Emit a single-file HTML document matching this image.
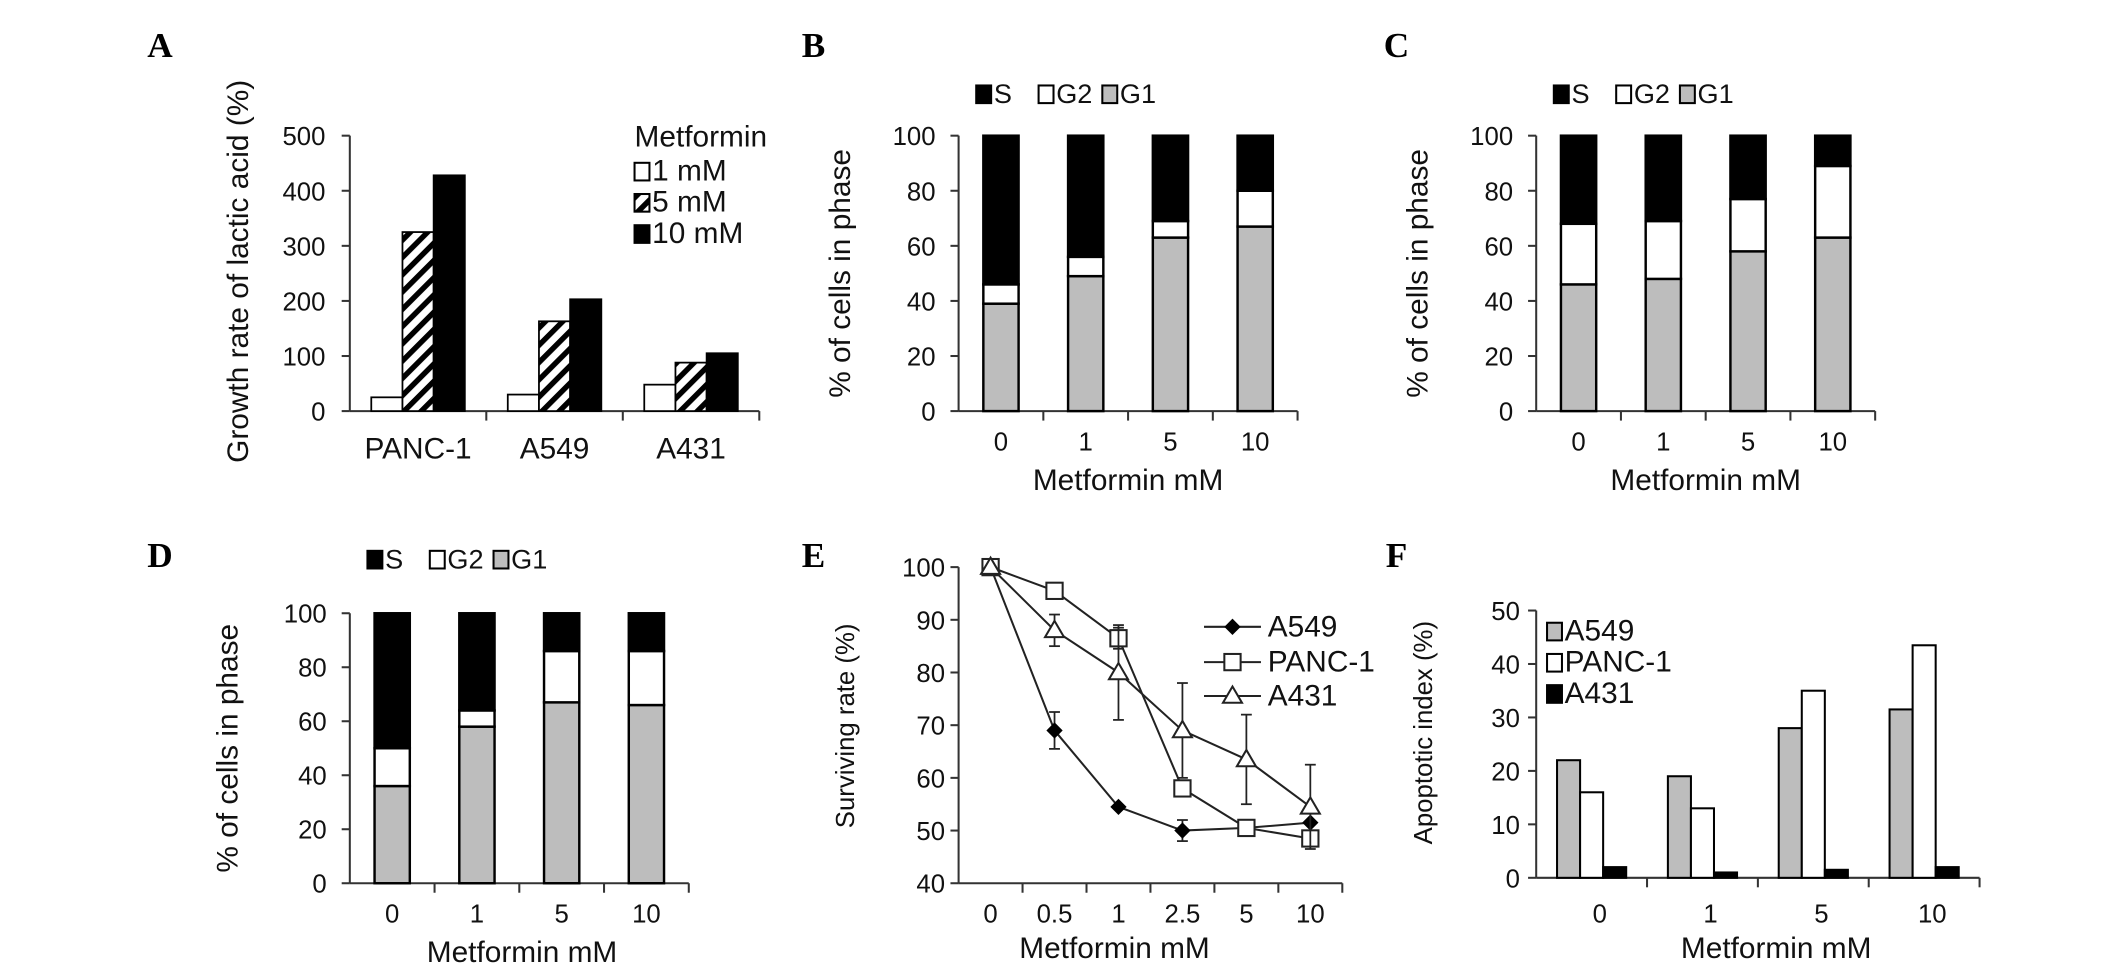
<!DOCTYPE html>
<html><head><meta charset="utf-8"><style>
html,body{margin:0;padding:0;background:#fff;}
svg{display:block;font-family:"Liberation Sans",Arial,sans-serif;}
.t{font-size:19px;fill:#111;}
.ti{font-size:22px;fill:#111;}
.lg{font-size:20px;fill:#111;}
.pl{font-family:"Liberation Serif",serif;font-weight:bold;font-size:26px;fill:#000;}
</style></head><body>
<svg id="fig" width="2126" height="966" viewBox="0 0 1568 712" preserveAspectRatio="none"></svg>
<script>
// Panel A data
const aCats = ['PANC-1','A549','A431'];
const a1mM = [25,30,48];
const a5mM = [325,163,88];
const a10mM = [428,203,105];
const aTicks = [0,100,200,300,400,500];
// Panels B,C,D data (cumulative tops)
const doseCats = ['0','1','5','10'];
const bG1 = [39,49,63,67];
const bG2top = [46,56,69,80];
const cG1 = [46,48,58,63];
const cG2top = [68,69,77,89];
const dG1 = [36,58,67,66];
const dG2top = [50,64,86,86];
const pctTicks = [0,20,40,60,80,100];
// Panel E data
const eCats = ['0','0.5','1','2.5','5','10'];
const eA549 = [100,69,54.5,50,50.5,51.5];
const eA549Err = [0,3.5,0,2,0,0];
const ePANC = [100,95.5,86.5,58,50.5,48.5];
const ePANCErr = [0,1,2,0,1,1];
const eA431 = [100,88,80,69,63.5,54.5];
const eA431Err = [0,3,9,9,8.5,8];
const eTicks = [40,50,60,70,80,90,100];
// Panel F data
const fA549 = [22,19,28,31.5];
const fPANC = [16,13,35,43.5];
const fA431 = [2,1,1.5,2];
const fTicks = [0,10,20,30,40,50];

const NS='http://www.w3.org/2000/svg';
const svg=document.getElementById('fig');
const defs=document.createElementNS(NS,'defs');
defs.innerHTML='<pattern id="hatch" patternUnits="userSpaceOnUse" width="9" height="9" patternTransform="rotate(45)"><rect width="9" height="9" fill="#fff"/><rect width="4" height="9" fill="#000"/></pattern>';
svg.appendChild(defs);
function el(tag,attrs,parent){const e=document.createElementNS(NS,tag);for(const k in attrs)e.setAttribute(k,attrs[k]);(parent||svg).appendChild(e);return e;}
function txt(x,y,s,cls,anchor,parent,rot){const e=el('text',{x:x,y:y,'class':cls,'text-anchor':anchor||'middle'},parent);if(rot)e.setAttribute('transform','rotate(-90 '+x+' '+y+')');e.textContent=s;return e;}
function grp(name){const g=el('g',{});return g;}

function axesY(g,x0,x1,yf,ticks,labelX){
  el('line',{x1:x0,y1:yf(ticks[0]),x2:x0,y2:yf(ticks[ticks.length-1]),stroke:'#333','stroke-width':1.5},g);
  el('line',{x1:x0,y1:yf(ticks[0]),x2:x1,y2:yf(ticks[0]),stroke:'#333','stroke-width':1.5},g);
  ticks.forEach(t=>{el('line',{x1:x0-6,y1:yf(t),x2:x0,y2:yf(t),stroke:'#333','stroke-width':1.5},g);
    const l=txt(labelX,yf(t)+7,String(t),'t','end',g);});
}
function legendBox(g,x,y,fill,label,cls){el('rect',{x:x,y:y-12,width:11,height:13,fill:fill,stroke:'#000','stroke-width':1.5},g);const t=txt(x+13,y+1,label,cls||'ti','start',g);}

// Panel A
(function(){
 const g=grp('panel-a');
 const x0=258,x1=560,y0=303,yT=100;const yf=v=>y0-(v/500)*(y0-yT);
 txt(118,42,'A','pl','middle',g);
 txt(183,200,'Growth rate of lactic acid (%)','ti','middle',g,true);
 axesY(g,x0,x1,yf,aTicks,240);
 const gw=(x1-x0)/aCats.length;
 aCats.forEach((c,i)=>{
   const gx=x0+gw*i+gw/2, bw=23;
   el('line',{x1:x0+gw*(i+1),y1:y0,x2:x0+gw*(i+1),y2:y0+7,stroke:'#333','stroke-width':1.5},g);
   [[a1mM,'#fff'],[a5mM,'url(#hatch)'],[a10mM,'#000']].forEach((s,j)=>{
     const v=s[0][i];const b=el('rect',{x:gx-1.5*bw+j*bw,y:yf(v),width:bw,height:y0-yf(v),fill:s[1],stroke:'#000','stroke-width':1.3},g);
     });
   txt(gx,338,c,'ti','middle',g);
 });
 txt(468,108,'Metformin','ti','start',g);
 legendBox(g,468,132,'#fff','1 mM');legendBox(g,468,155,'url(#hatch)','5 mM');legendBox(g,468,178,'#000','10 mM');
})();

function stacked(name,letter,lx,ly,ax,y0,yT,g1,g2,legendY,titleX,xlabelX){
 const g=grp(name);
 const yf=v=>y0-(v/100)*(y0-yT);
 txt(lx,ly,letter,'pl','middle',g);
 txt(titleX,(y0+yT)/2,'% of cells  in phase','ti','middle',g,true);
 const x1=ax+250;
 axesY(g,ax,x1,yf,pctTicks,ax-17);
 const gw=(x1-ax)/4;
 doseCats.forEach((c,i)=>{
  const cx=ax+gw*i+gw/2,bw=26;
  el('line',{x1:ax+gw*(i+1),y1:y0,x2:ax+gw*(i+1),y2:y0+7,stroke:'#333','stroke-width':1.5},g);
  const segs=[[0,g1[i],'#bdbdbd','g1'],[g1[i],g2[i],'#fff','g2'],[g2[i],100,'#000','s']];
  segs.forEach(s=>{const r=el('rect',{x:cx-bw/2,y:yf(s[1]),width:bw,height:yf(s[0])-yf(s[1]),fill:s[2],stroke:'#000','stroke-width':1.8},g);
   });
  txt(cx,y0+29,c,'t','middle',g);
 });
 txt(xlabelX,y0+58,'Metformin mM','ti','middle',g);
 legendBox(g,ax+13,legendY,'#000','S','lg');legendBox(g,ax+59,legendY,'#fff','G2','lg');legendBox(g,ax+106,legendY,'#bdbdbd','G1','lg');
}
stacked('panel-b','B',600,42,707,303,100,bG1,bG2top,75,627,832);
stacked('panel-c','C',1030,42,1133,303,100,cG1,cG2top,75,1053,1258);
stacked('panel-d','D',118,418,258,651,452,dG1,dG2top,418,175,385);

// Panel E
(function(){
 const g=grp('panel-e');
 const ax=707,x1=990,y0=651,yT=418;const yf=v=>y0-((v-40)/60)*(y0-yT);
 txt(600,418,'E','pl','middle',g);
 txt(630,535,'Surviving rate (%)','t','middle',g,true);
 axesY(g,ax,x1,yf,eTicks,ax-10);
 const gw=(x1-ax)/eCats.length;const xf=i=>ax+gw*i+gw/2;
 eCats.forEach((c,i)=>{el('line',{x1:ax+gw*(i+1),y1:y0,x2:ax+gw*(i+1),y2:y0+7,stroke:'#333','stroke-width':1.5},g);txt(xf(i),y0+29,c,'t','middle',g);});
 txt(822,706,'Metformin  mM','ti','middle',g);
 function series(vals,errs,marker,name){
  const sg=el('g',{},g);
  el('polyline',{points:vals.map((v,i)=>xf(i)+','+yf(v)).join(' '),fill:'none',stroke:'#222','stroke-width':1.5},sg);
  vals.forEach((v,i)=>{if(errs[i]>0){el('line',{x1:xf(i),y1:yf(v-errs[i]),x2:xf(i),y2:yf(v+errs[i]),stroke:'#222','stroke-width':1.3},sg);
    [v-errs[i],v+errs[i]].forEach(e=>el('line',{x1:xf(i)-4,y1:yf(e),x2:xf(i)+4,y2:yf(e),stroke:'#222','stroke-width':1.3},sg));}
   marker(sg,xf(i),yf(v));});
 }
 const dia=(p,x,y)=>el('polygon',{points:`${x},${y-6} ${x+6},${y} ${x},${y+6} ${x-6},${y}`,fill:'#000'},p);
 const sq=(p,x,y)=>el('rect',{x:x-6,y:y-6,width:12,height:12,fill:'#fff',stroke:'#222','stroke-width':1.5},p);
 const tri=(p,x,y)=>el('polygon',{points:`${x},${y-7} ${x+7},${y+5} ${x-7},${y+5}`,fill:'#fff',stroke:'#222','stroke-width':1.5},p);
 series(eA549,eA549Err,dia,'a549');series(ePANC,ePANCErr,sq,'panc-1');series(eA431,eA431Err,tri,'a431');
 [[dia,'A549',462],[sq,'PANC-1',488],[tri,'A431',513]].forEach(l=>{el('line',{x1:888,y1:l[2],x2:930,y2:l[2],stroke:'#222','stroke-width':1.5},g);l[0](g,909,l[2]);
  const t=txt(935,l[2]+7,l[1],'ti','start',g);});
})();

// Panel F
(function(){
 const g=grp('panel-f');
 const ax=1133,x1=1460,y0=647,yT=450;const yf=v=>y0-(v/50)*(y0-yT);
 txt(1030,418,'F','pl','middle',g);
 txt(1056,540,'Apoptotic index (%)','t','middle',g,true);
 axesY(g,ax,x1,yf,fTicks,ax-12);
 const gw=(x1-ax)/4;
 doseCats.forEach((c,i)=>{
  const cx=ax+gw*i+gw/2,bw=17;
  el('line',{x1:ax+gw*(i+1),y1:y0,x2:ax+gw*(i+1),y2:y0+7,stroke:'#333','stroke-width':1.5},g);
  [[fA549,'#bdbdbd','a549'],[fPANC,'#fff','panc-1'],[fA431,'#000','a431']].forEach((s,j)=>{
   const v=s[0][i];const r=el('rect',{x:cx-1.5*bw+j*bw,y:yf(v),width:bw,height:y0-yf(v),fill:s[1],stroke:'#000','stroke-width':1.5},g);
   });
  txt(cx+6,y0+33,c,'t','middle',g);
 });
 txt(1310,706,'Metformin mM','ti','middle',g);
 legendBox(g,1141,471,'#bdbdbd','A549');legendBox(g,1141,494,'#fff','PANC-1');legendBox(g,1141,517,'#000','A431');
})();
</script>
</body></html>
